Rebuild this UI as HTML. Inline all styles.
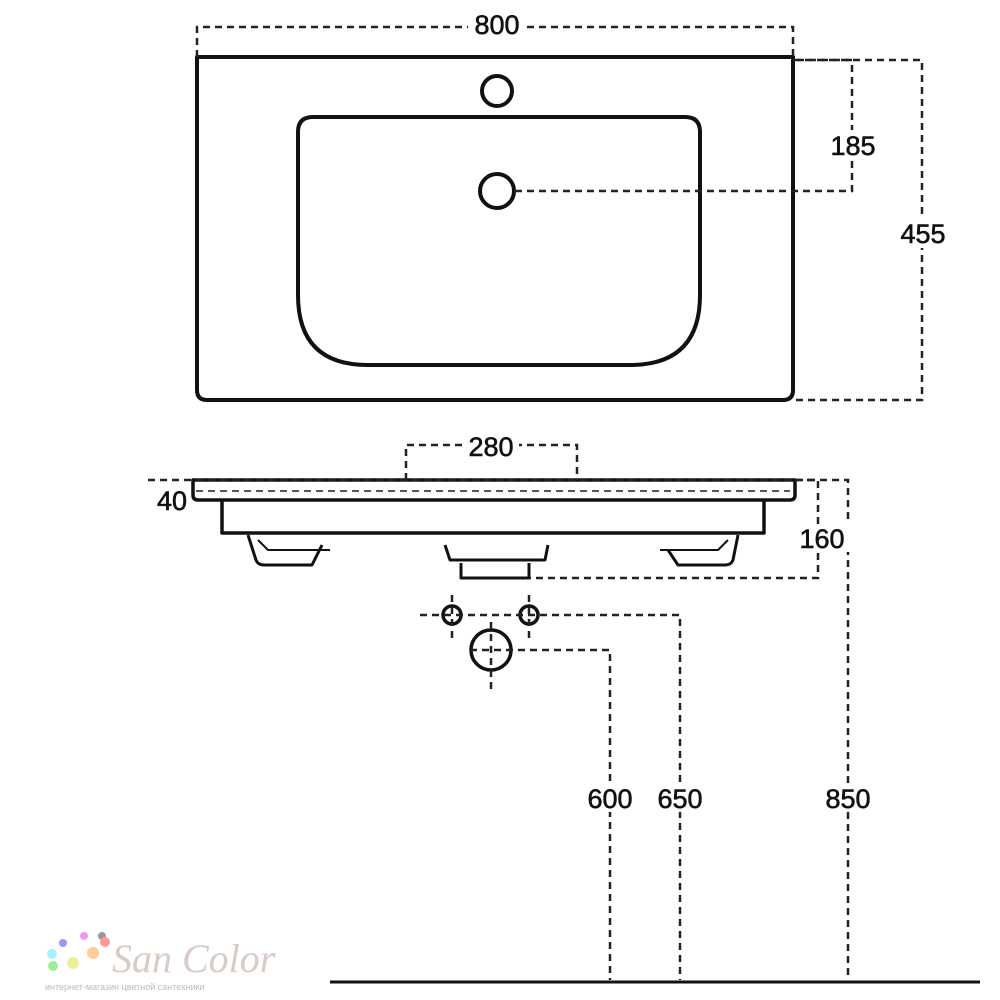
<!DOCTYPE html>
<html><head><meta charset="utf-8"><style>
html,body{margin:0;padding:0;background:#fff;width:1000px;height:1000px;overflow:hidden}
text{font-family:"Liberation Sans",sans-serif;font-size:27px;fill:#111;stroke:#111;stroke-width:0.6}
</style></head><body>
<svg width="1000" height="1000" viewBox="0 0 1000 1000" xmlns="http://www.w3.org/2000/svg">
<g fill="none" stroke="#111" stroke-width="4" stroke-linejoin="round">
<path d="M197 57 H793 V390 Q793 400 783 400 H207 Q197 400 197 390 Z"/>
<path d="M313 117 H685 Q700 117 700 132 V295 Q700 365 630 365 H368 Q298 365 298 295 V132 Q298 117 313 117 Z"/>
<circle cx="497" cy="91" r="15"/>
<circle cx="497" cy="191" r="17"/>
<path d="M195 480 H795 V495 Q795 500 790 500 H198 Q193 500 193 495 V480 Z" stroke-width="3.5"/>
<path d="M222 500 V533 H764 V500" stroke-width="3.5"/>
<path d="M248 535 L256 560 Q258 565 264 565 H312 L322 545" stroke-width="3"/>
<path d="M258 540 L268 550 H330" stroke-width="2"/>
<path d="M738 535 L733 560 Q731 565 725 565 H678 L668 550" stroke-width="3"/>
<path d="M728 540 L718 550 H660" stroke-width="2"/>
<path d="M445 545 L450 560 H545 L548 545" stroke-width="3"/>
<path d="M461 563 V578 H529 V563" stroke-width="3"/>
<circle cx="452" cy="615" r="9" stroke-width="3.5"/>
<circle cx="529" cy="615" r="9" stroke-width="3.5"/>
<circle cx="491" cy="650" r="20" stroke-width="3.5"/>
</g>
<g fill="none" stroke="#222" stroke-width="2.5" stroke-dasharray="7 5">
<path d="M197 57 V27 H793 V57"/>
<path d="M515 191 H852 V60 H793"/>
<path d="M793 60 H922 V400 H793"/>
<path d="M406 480 V445 H577 V480"/>
<path d="M148 480 H848 V980"/>
<path d="M196 491 H790" stroke-width="1.5"/>
<path d="M795 480 H818 V578 H530"/>
<path d="M420 615 H680 V980"/>
<path d="M470 650 H610 V980"/>
<path d="M452 595 V640 M529 595 V640 M491 622 V690"/>
</g>
<line x1="330" y1="982" x2="980" y2="982" stroke="#111" stroke-width="3"/>
<g text-anchor="middle">
<rect x="468" y="10" width="58" height="30" fill="#fff"/>
<text x="497" y="34">800</text>
<rect x="826" y="130" width="54" height="30" fill="#fff"/>
<text x="853" y="155">185</text>
<rect x="894" y="218" width="58" height="30" fill="#fff"/>
<text x="923" y="243">455</text>
<rect x="463" y="432" width="56" height="28" fill="#fff"/>
<text x="491" y="456">280</text>
<text x="172" y="510">40</text>
<rect x="796" y="524" width="54" height="28" fill="#fff"/>
<text x="822" y="548">160</text>
<rect x="582" y="784" width="56" height="28" fill="#fff"/>
<text x="610" y="808">600</text>
<rect x="652" y="784" width="56" height="28" fill="#fff"/>
<text x="680" y="808">650</text>
<rect x="820" y="784" width="56" height="28" fill="#fff"/>
<text x="848" y="808">850</text>
</g>
<g>
<circle cx="52" cy="954" r="5" fill="#aef"/><circle cx="53" cy="966" r="5" fill="#9e9"/>
<circle cx="63" cy="943" r="4" fill="#99e"/><circle cx="73" cy="963" r="6" fill="#ee9"/>
<circle cx="84" cy="936" r="4" fill="#e9e"/><circle cx="93" cy="953" r="6" fill="#fc9"/>
<circle cx="102" cy="936" r="4" fill="#999"/><circle cx="105" cy="942" r="5" fill="#f99"/>
<text x="112" y="972" style="font-family:'Liberation Serif',serif;font-style:italic;font-size:40px;fill:#d8cbc5;stroke:none">San Color</text>
<text x="45" y="990" style="font-size:9px;fill:#bbb;stroke:none">интернет-магазин цветной сантехники</text>
</g>
</svg>
</body></html>
